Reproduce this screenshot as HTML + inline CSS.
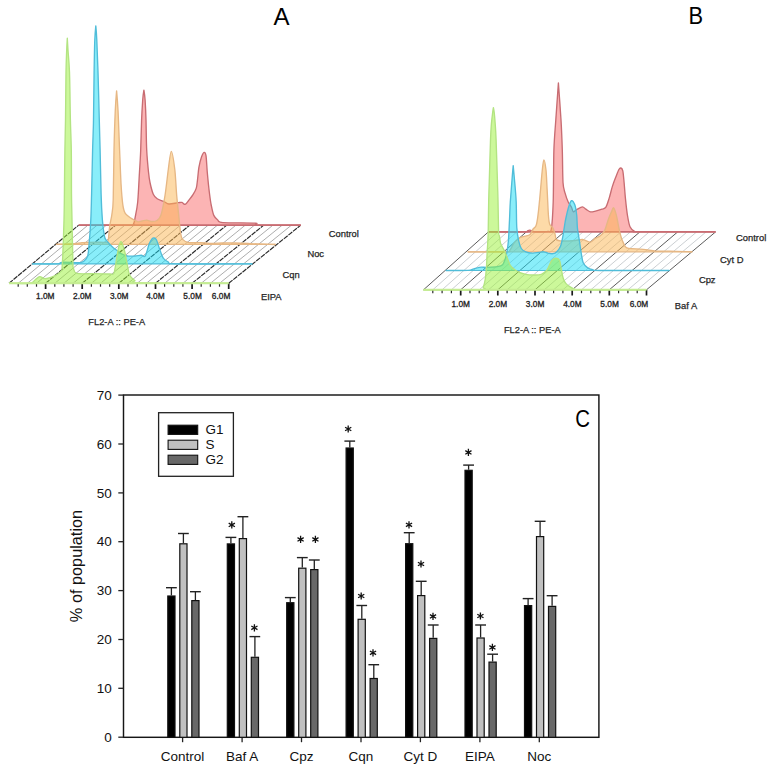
<!DOCTYPE html>
<html><head><meta charset="utf-8"><style>
html,body{margin:0;padding:0;background:#fff;}
svg{display:block;}
text{font-family:"Liberation Sans",sans-serif;}
.tk{font-size:8.3px;fill:#222;stroke:#222;stroke-width:0.3px;}
.lb{font-size:9.4px;fill:#262626;stroke:#262626;stroke-width:0.25px;}
.ax{font-size:9.3px;fill:#262626;stroke:#262626;stroke-width:0.25px;}
.pl{font-size:24px;fill:#000;}
.ct{font-size:13.5px;fill:#111;}
.yt{font-size:16.3px;fill:#111;}
</style></head><body>
<svg width="775" height="769" viewBox="0 0 775 769">
<rect x="0" y="0" width="775" height="769" fill="#fff"/>
<line x1="18.2" y1="283.3" x2="88" y2="225.1" stroke="#a4a4a4" stroke-width="0.9"/>
<line x1="27.3" y1="283.3" x2="97.2" y2="225.1" stroke="#a4a4a4" stroke-width="0.9"/>
<line x1="36.5" y1="283.3" x2="106.5" y2="225.1" stroke="#a4a4a4" stroke-width="0.9"/>
<line x1="54.8" y1="283.3" x2="125" y2="225.1" stroke="#a4a4a4" stroke-width="0.9"/>
<line x1="63.9" y1="283.3" x2="134.2" y2="225.1" stroke="#a4a4a4" stroke-width="0.9"/>
<line x1="73.1" y1="283.3" x2="143.5" y2="225.1" stroke="#a4a4a4" stroke-width="0.9"/>
<line x1="91.4" y1="283.3" x2="162" y2="225.1" stroke="#a4a4a4" stroke-width="0.9"/>
<line x1="100.5" y1="283.3" x2="171.2" y2="225.1" stroke="#a4a4a4" stroke-width="0.9"/>
<line x1="109.7" y1="283.3" x2="180.5" y2="225.1" stroke="#a4a4a4" stroke-width="0.9"/>
<line x1="128" y1="283.3" x2="199" y2="225.1" stroke="#a4a4a4" stroke-width="0.9"/>
<line x1="137.2" y1="283.3" x2="208.3" y2="225.1" stroke="#a4a4a4" stroke-width="0.9"/>
<line x1="146.3" y1="283.3" x2="217.5" y2="225.1" stroke="#a4a4a4" stroke-width="0.9"/>
<line x1="164.6" y1="283.3" x2="236" y2="225.1" stroke="#a4a4a4" stroke-width="0.9"/>
<line x1="173.8" y1="283.3" x2="245.3" y2="225.1" stroke="#a4a4a4" stroke-width="0.9"/>
<line x1="182.9" y1="283.3" x2="254.5" y2="225.1" stroke="#a4a4a4" stroke-width="0.9"/>
<line x1="201.2" y1="283.3" x2="273" y2="225.1" stroke="#a4a4a4" stroke-width="0.9"/>
<line x1="210.4" y1="283.3" x2="282.3" y2="225.1" stroke="#a4a4a4" stroke-width="0.9"/>
<line x1="219.5" y1="283.3" x2="291.5" y2="225.1" stroke="#a4a4a4" stroke-width="0.9"/>
<line x1="9" y1="283.3" x2="78.7" y2="225.1" stroke="#2a2a2a" stroke-width="1.15" stroke-dasharray="5 0.9"/>
<line x1="45.6" y1="283.3" x2="115.7" y2="225.1" stroke="#2a2a2a" stroke-width="1.15" stroke-dasharray="5 0.9"/>
<line x1="82.2" y1="283.3" x2="152.7" y2="225.1" stroke="#2a2a2a" stroke-width="1.15" stroke-dasharray="5 0.9"/>
<line x1="118.8" y1="283.3" x2="189.8" y2="225.1" stroke="#2a2a2a" stroke-width="1.15" stroke-dasharray="5 0.9"/>
<line x1="155.5" y1="283.3" x2="226.8" y2="225.1" stroke="#2a2a2a" stroke-width="1.15" stroke-dasharray="5 0.9"/>
<line x1="192.1" y1="283.3" x2="263.8" y2="225.1" stroke="#2a2a2a" stroke-width="1.15" stroke-dasharray="5 0.9"/>
<line x1="228.7" y1="283.3" x2="300.8" y2="225.1" stroke="#2a2a2a" stroke-width="1.15" stroke-dasharray="5 0.9"/>
<path d="M78.7,225.1 C86.4,225.1 121.8,225.3 130,225.1 C138.2,224.9 132.7,225.1 133.5,224 C134.3,222.9 134.5,220.9 135.1,217.6 C135.7,214.3 137.1,208.4 137.7,202 C138.3,195.6 138.9,182.8 139.3,175 C139.8,167.2 140.4,158.2 140.7,150 C141,141.8 141.3,127.5 141.6,120 C141.9,112.5 142.4,104.5 142.7,100 C143,95.5 143.9,90.2 143.9,90.2 C143.9,90.2 144.8,95.5 145.1,100 C145.4,104.5 145.8,112.5 146,120 C146.2,127.5 146.3,142.2 146.7,150 C147.1,157.8 148,167.1 148.5,172 C149,176.9 149.3,179.2 150,182.5 C150.7,185.8 152.2,191.8 153.3,194.2 C154.4,196.6 155.6,197.7 157.2,198.8 C158.8,199.9 161.9,200.6 163.7,201.4 C165.5,202.2 166.8,203.8 168.9,204 C171,204.2 176,202.9 178,202.7 C180,202.5 180.9,202.1 182,202.4 C183.1,202.7 184.1,204.8 185.2,204.4 C186.3,204 187.9,201.3 189.1,199.8 C190.3,198.3 191.9,196.4 193,194.6 C194.1,192.8 195.6,190.4 196.3,188.1 C197,185.8 197.2,182.1 197.6,179 C198,175.9 198.3,170.6 198.9,167.3 C199.5,164 200.7,159.1 201.5,156.9 C202.3,154.7 203.4,152.6 204.1,152.4 C204.8,152.2 205.5,152.6 206,155.6 C206.5,158.6 206.8,167 207.3,172.5 C207.8,178 208.7,187.1 209.3,192 C209.9,196.9 210.5,201.5 211.2,205 C211.9,208.5 212.8,213.2 213.8,215.4 C214.8,217.7 216.3,218.9 217.7,220 C219.1,221.1 217.2,222.1 222.9,222.6 C228.6,223.1 250.1,222.8 255.4,223.2 C260.7,223.6 251.2,224.8 258,225.1 C264.8,225.4 294.4,225.1 300.8,225.1 Z" fill="rgba(250,105,105,0.5)" stroke="none"/>
<path d="M78.7,225.1 C86.4,225.1 121.8,225.3 130,225.1 C138.2,224.9 132.7,225.1 133.5,224 C134.3,222.9 134.5,220.9 135.1,217.6 C135.7,214.3 137.1,208.4 137.7,202 C138.3,195.6 138.9,182.8 139.3,175 C139.8,167.2 140.4,158.2 140.7,150 C141,141.8 141.3,127.5 141.6,120 C141.9,112.5 142.4,104.5 142.7,100 C143,95.5 143.9,90.2 143.9,90.2 C143.9,90.2 144.8,95.5 145.1,100 C145.4,104.5 145.8,112.5 146,120 C146.2,127.5 146.3,142.2 146.7,150 C147.1,157.8 148,167.1 148.5,172 C149,176.9 149.3,179.2 150,182.5 C150.7,185.8 152.2,191.8 153.3,194.2 C154.4,196.6 155.6,197.7 157.2,198.8 C158.8,199.9 161.9,200.6 163.7,201.4 C165.5,202.2 166.8,203.8 168.9,204 C171,204.2 176,202.9 178,202.7 C180,202.5 180.9,202.1 182,202.4 C183.1,202.7 184.1,204.8 185.2,204.4 C186.3,204 187.9,201.3 189.1,199.8 C190.3,198.3 191.9,196.4 193,194.6 C194.1,192.8 195.6,190.4 196.3,188.1 C197,185.8 197.2,182.1 197.6,179 C198,175.9 198.3,170.6 198.9,167.3 C199.5,164 200.7,159.1 201.5,156.9 C202.3,154.7 203.4,152.6 204.1,152.4 C204.8,152.2 205.5,152.6 206,155.6 C206.5,158.6 206.8,167 207.3,172.5 C207.8,178 208.7,187.1 209.3,192 C209.9,196.9 210.5,201.5 211.2,205 C211.9,208.5 212.8,213.2 213.8,215.4 C214.8,217.7 216.3,218.9 217.7,220 C219.1,221.1 217.2,222.1 222.9,222.6 C228.6,223.1 250.1,222.8 255.4,223.2 C260.7,223.6 251.2,224.8 258,225.1 C264.8,225.4 294.4,225.1 300.8,225.1" fill="none" stroke="#c86c72" stroke-width="1.35" stroke-linejoin="round"/>
<line x1="78.7" y1="225.1" x2="300.8" y2="225.1" stroke="#c86c72" stroke-width="1.6"/>
<path d="M55.9,244.4 C58,244.3 66.4,244.2 70,244 C73.6,243.8 77.6,243.3 80,243 C82.4,242.7 83,242.4 86,242.3 C89,242.2 97.1,242.2 100,242.2 C102.9,242.2 104.4,242.4 105.5,242.4 C106.6,242.4 107,242.6 107.5,242 C108,241.4 108.2,240.9 108.5,238.4 C108.8,235.9 109.3,228.9 109.8,225.4 C110.3,221.9 111.3,218.8 111.8,215 C112.3,211.2 112.9,209.8 113.2,200 C113.5,190.2 113.7,163.5 114,150 C114.3,136.5 114.9,118.9 115.3,110 C115.7,101.1 116.6,90.9 116.6,90.9 C116.6,90.9 117.5,101.1 118,110 C118.5,118.9 119.1,138.8 119.6,150 C120.1,161.2 120.6,176.8 121.1,185 C121.6,193.2 122.2,200.3 122.8,204.6 C123.4,208.9 124.1,211.6 125.4,213.7 C126.7,215.8 129.8,217.3 131.2,218.3 C132.6,219.3 133.5,219.7 134.5,220.2 C135.5,220.7 136.9,221.7 138,221.8 C139.1,221.9 140.7,221.2 142,221 C143.3,220.8 145.3,220.1 146.8,220.2 C148.3,220.3 150.5,221.5 152,221.5 C153.5,221.5 155.7,221.5 157,220.5 C158.3,219.5 159.8,218.8 161,215 C162.2,211.2 163.9,202.3 165,195.5 C166.1,188.7 167.4,176.1 168.3,169.5 C169.2,162.9 170.3,151.3 171.3,151.3 C172.3,151.3 174,162.9 174.8,169.5 C175.6,176.1 176.1,188.7 176.7,195.5 C177.3,202.3 178.1,209.3 178.7,215 C179.3,220.7 180,229.5 180.6,233.2 C181.2,236.9 181.3,238 182.6,239.4 C183.9,240.8 186.3,242.1 189,242.6 C191.7,243.1 197.5,242.5 200.6,242.6 C203.7,242.7 206.4,243.3 209.7,243.4 C213,243.5 218.8,243.1 222.6,243 C226.4,242.9 230.9,242.9 235,243 C239.1,243.1 245.5,243.4 250,243.6 C254.5,243.8 261.2,244.1 265,244.2 C268.8,244.3 274,244.5 275.6,244.5 Z" fill="rgba(251,181,81,0.5)" stroke="none"/>
<path d="M55.9,244.4 C58,244.3 66.4,244.2 70,244 C73.6,243.8 77.6,243.3 80,243 C82.4,242.7 83,242.4 86,242.3 C89,242.2 97.1,242.2 100,242.2 C102.9,242.2 104.4,242.4 105.5,242.4 C106.6,242.4 107,242.6 107.5,242 C108,241.4 108.2,240.9 108.5,238.4 C108.8,235.9 109.3,228.9 109.8,225.4 C110.3,221.9 111.3,218.8 111.8,215 C112.3,211.2 112.9,209.8 113.2,200 C113.5,190.2 113.7,163.5 114,150 C114.3,136.5 114.9,118.9 115.3,110 C115.7,101.1 116.6,90.9 116.6,90.9 C116.6,90.9 117.5,101.1 118,110 C118.5,118.9 119.1,138.8 119.6,150 C120.1,161.2 120.6,176.8 121.1,185 C121.6,193.2 122.2,200.3 122.8,204.6 C123.4,208.9 124.1,211.6 125.4,213.7 C126.7,215.8 129.8,217.3 131.2,218.3 C132.6,219.3 133.5,219.7 134.5,220.2 C135.5,220.7 136.9,221.7 138,221.8 C139.1,221.9 140.7,221.2 142,221 C143.3,220.8 145.3,220.1 146.8,220.2 C148.3,220.3 150.5,221.5 152,221.5 C153.5,221.5 155.7,221.5 157,220.5 C158.3,219.5 159.8,218.8 161,215 C162.2,211.2 163.9,202.3 165,195.5 C166.1,188.7 167.4,176.1 168.3,169.5 C169.2,162.9 170.3,151.3 171.3,151.3 C172.3,151.3 174,162.9 174.8,169.5 C175.6,176.1 176.1,188.7 176.7,195.5 C177.3,202.3 178.1,209.3 178.7,215 C179.3,220.7 180,229.5 180.6,233.2 C181.2,236.9 181.3,238 182.6,239.4 C183.9,240.8 186.3,242.1 189,242.6 C191.7,243.1 197.5,242.5 200.6,242.6 C203.7,242.7 206.4,243.3 209.7,243.4 C213,243.5 218.8,243.1 222.6,243 C226.4,242.9 230.9,242.9 235,243 C239.1,243.1 245.5,243.4 250,243.6 C254.5,243.8 261.2,244.1 265,244.2 C268.8,244.3 274,244.5 275.6,244.5" fill="none" stroke="#e6b784" stroke-width="1.35" stroke-linejoin="round"/>
<line x1="55.9" y1="244.4" x2="275.6" y2="244.4" stroke="#e6b784" stroke-width="1.2"/>
<path d="M32.2,263.9 C35.9,263.9 52.5,264.1 57,263.9 C61.5,263.7 58.5,262.5 62,262.3 C65.5,262.1 76.7,262.8 80,262.6 C83.3,262.4 82.8,262 84,261 C85.2,260 87,258.4 87.7,256 C88.5,253.6 88.5,250.4 89,245 C89.5,239.6 90.4,227.7 90.8,220 C91.2,212.3 91.3,204.5 91.6,194 C91.9,183.5 92.3,161.1 92.6,150 C92.9,138.9 93.3,131.7 93.5,120 C93.7,108.3 93.9,84 94.1,72 C94.3,60 94.5,46.9 94.8,40 C95.1,33.1 95.8,25.9 95.8,25.9 C95.8,25.9 96.5,33.1 96.8,40 C97.1,46.9 97.6,60 98,72 C98.4,84 99,108.3 99.3,120 C99.6,131.7 99.8,138.9 100.1,150 C100.4,161.1 100.8,183.5 101.1,194 C101.4,204.5 101.9,213.6 102.4,220 C102.9,226.4 103.9,233.4 104.5,236.5 C105.1,239.6 105.8,239.4 106.5,240.5 C107.2,241.6 108.5,242.9 109.5,244 C110.5,245.1 111.9,246.5 113,247.5 C114.1,248.5 115.9,249.6 117,250.5 C118.1,251.4 119.1,252.5 120.6,253.3 C122.1,254.1 125,255.6 127.1,256 C129.2,256.4 132.7,256.1 134.8,256 C136.9,255.9 139.7,255.3 141.3,255.3 C142.9,255.3 144,257.6 145.2,256 C146.4,254.4 148,247.1 149,244.5 C150,241.9 151.2,240 152,239 C152.8,238 153.5,237.8 154.2,238 C154.9,238.2 155.7,238.4 156.5,240 C157.3,241.6 158.4,245.7 159.4,248.4 C160.4,251.1 161.8,256 163.2,258 C164.5,260 166.5,261.1 168.4,262 C170.3,262.9 163.5,263.6 176.1,263.9 C188.7,264.2 241,263.9 252.4,263.9 Z" fill="rgba(20,222,246,0.5)" stroke="none"/>
<path d="M32.2,263.9 C35.9,263.9 52.5,264.1 57,263.9 C61.5,263.7 58.5,262.5 62,262.3 C65.5,262.1 76.7,262.8 80,262.6 C83.3,262.4 82.8,262 84,261 C85.2,260 87,258.4 87.7,256 C88.5,253.6 88.5,250.4 89,245 C89.5,239.6 90.4,227.7 90.8,220 C91.2,212.3 91.3,204.5 91.6,194 C91.9,183.5 92.3,161.1 92.6,150 C92.9,138.9 93.3,131.7 93.5,120 C93.7,108.3 93.9,84 94.1,72 C94.3,60 94.5,46.9 94.8,40 C95.1,33.1 95.8,25.9 95.8,25.9 C95.8,25.9 96.5,33.1 96.8,40 C97.1,46.9 97.6,60 98,72 C98.4,84 99,108.3 99.3,120 C99.6,131.7 99.8,138.9 100.1,150 C100.4,161.1 100.8,183.5 101.1,194 C101.4,204.5 101.9,213.6 102.4,220 C102.9,226.4 103.9,233.4 104.5,236.5 C105.1,239.6 105.8,239.4 106.5,240.5 C107.2,241.6 108.5,242.9 109.5,244 C110.5,245.1 111.9,246.5 113,247.5 C114.1,248.5 115.9,249.6 117,250.5 C118.1,251.4 119.1,252.5 120.6,253.3 C122.1,254.1 125,255.6 127.1,256 C129.2,256.4 132.7,256.1 134.8,256 C136.9,255.9 139.7,255.3 141.3,255.3 C142.9,255.3 144,257.6 145.2,256 C146.4,254.4 148,247.1 149,244.5 C150,241.9 151.2,240 152,239 C152.8,238 153.5,237.8 154.2,238 C154.9,238.2 155.7,238.4 156.5,240 C157.3,241.6 158.4,245.7 159.4,248.4 C160.4,251.1 161.8,256 163.2,258 C164.5,260 166.5,261.1 168.4,262 C170.3,262.9 163.5,263.6 176.1,263.9 C188.7,264.2 241,263.9 252.4,263.9" fill="none" stroke="#50bdd9" stroke-width="1.35" stroke-linejoin="round"/>
<line x1="32.2" y1="263.9" x2="252.4" y2="263.9" stroke="#50bdd9" stroke-width="1.2"/>
<path d="M9,283.3 C12.2,283.3 26.1,283.8 30,283.3 C33.9,282.8 33.5,281 35,280 C36.5,279 38.2,276.8 39.7,276.6 C41.2,276.4 43.1,278.6 44.9,278.7 C46.7,278.8 49.7,277.9 51.6,277.2 C53.5,276.5 56.4,274.9 57.8,274 C59.2,273.1 60.3,272.2 61,271 C61.7,269.8 61.8,273.6 62.2,266 C62.7,258.4 63.7,230.8 64,220 C64.3,209.2 64.3,204.5 64.4,194 C64.5,183.5 64.7,161.1 64.9,150 C65.1,138.9 65.3,131.7 65.5,120 C65.7,108.3 65.8,82.5 66,72 C66.2,61.5 66.5,55.1 66.7,50 C66.9,44.9 67.3,38.2 67.3,38.2 C67.3,38.2 67.7,44.9 68,50 C68.3,55.1 69.1,61.5 69.5,72 C69.9,82.5 70.1,108.3 70.4,120 C70.7,131.7 71.1,138.9 71.3,150 C71.5,161.1 71.4,183.5 71.5,194 C71.6,204.5 71.8,209.8 72,220 C72.2,230.2 72.7,254.9 72.9,262 C73.1,269.1 72.7,265.9 73.3,267.6 C73.9,269.3 73.5,272.5 76.8,273.4 C80.1,274.3 90,273.5 95,273.6 C100,273.7 107.2,274.1 110,274 C112.8,273.9 113,275.5 114,273 C115,270.5 116,261.4 116.8,257.3 C117.5,253.2 118.3,248.3 119,246 C119.7,243.7 120.5,241.1 121.3,241.8 C122.1,242.5 123.6,247.5 124.5,250.8 C125.4,254.1 126.3,260 127.1,263.7 C127.9,267.4 128.5,272.8 129.7,275.3 C130.9,277.8 133.3,279.4 134.8,280.5 C136.3,281.6 125.9,282.4 140,282.8 C154.1,283.2 215.4,283.2 228.7,283.3 Z" fill="rgba(153,241,53,0.5)" stroke="none"/>
<path d="M9,283.3 C12.2,283.3 26.1,283.8 30,283.3 C33.9,282.8 33.5,281 35,280 C36.5,279 38.2,276.8 39.7,276.6 C41.2,276.4 43.1,278.6 44.9,278.7 C46.7,278.8 49.7,277.9 51.6,277.2 C53.5,276.5 56.4,274.9 57.8,274 C59.2,273.1 60.3,272.2 61,271 C61.7,269.8 61.8,273.6 62.2,266 C62.7,258.4 63.7,230.8 64,220 C64.3,209.2 64.3,204.5 64.4,194 C64.5,183.5 64.7,161.1 64.9,150 C65.1,138.9 65.3,131.7 65.5,120 C65.7,108.3 65.8,82.5 66,72 C66.2,61.5 66.5,55.1 66.7,50 C66.9,44.9 67.3,38.2 67.3,38.2 C67.3,38.2 67.7,44.9 68,50 C68.3,55.1 69.1,61.5 69.5,72 C69.9,82.5 70.1,108.3 70.4,120 C70.7,131.7 71.1,138.9 71.3,150 C71.5,161.1 71.4,183.5 71.5,194 C71.6,204.5 71.8,209.8 72,220 C72.2,230.2 72.7,254.9 72.9,262 C73.1,269.1 72.7,265.9 73.3,267.6 C73.9,269.3 73.5,272.5 76.8,273.4 C80.1,274.3 90,273.5 95,273.6 C100,273.7 107.2,274.1 110,274 C112.8,273.9 113,275.5 114,273 C115,270.5 116,261.4 116.8,257.3 C117.5,253.2 118.3,248.3 119,246 C119.7,243.7 120.5,241.1 121.3,241.8 C122.1,242.5 123.6,247.5 124.5,250.8 C125.4,254.1 126.3,260 127.1,263.7 C127.9,267.4 128.5,272.8 129.7,275.3 C130.9,277.8 133.3,279.4 134.8,280.5 C136.3,281.6 125.9,282.4 140,282.8 C154.1,283.2 215.4,283.2 228.7,283.3" fill="none" stroke="#b3e482" stroke-width="1.35" stroke-linejoin="round"/>
<line x1="9" y1="283.3" x2="228.7" y2="283.3" stroke="#b3e482" stroke-width="1.2"/>
<line x1="18.2" y1="283.3" x2="18.2" y2="286.7" stroke="#2a2a2a" stroke-width="1.2"/>
<line x1="27.3" y1="283.3" x2="27.3" y2="286.7" stroke="#2a2a2a" stroke-width="1.2"/>
<line x1="36.5" y1="283.3" x2="36.5" y2="286.7" stroke="#2a2a2a" stroke-width="1.2"/>
<line x1="45.6" y1="283.3" x2="45.6" y2="289" stroke="#1a1a1a" stroke-width="1.7"/>
<line x1="54.8" y1="283.3" x2="54.8" y2="286.7" stroke="#2a2a2a" stroke-width="1.2"/>
<line x1="63.9" y1="283.3" x2="63.9" y2="286.7" stroke="#2a2a2a" stroke-width="1.2"/>
<line x1="73.1" y1="283.3" x2="73.1" y2="286.7" stroke="#2a2a2a" stroke-width="1.2"/>
<line x1="82.2" y1="283.3" x2="82.2" y2="289" stroke="#1a1a1a" stroke-width="1.7"/>
<line x1="91.4" y1="283.3" x2="91.4" y2="286.7" stroke="#2a2a2a" stroke-width="1.2"/>
<line x1="100.5" y1="283.3" x2="100.5" y2="286.7" stroke="#2a2a2a" stroke-width="1.2"/>
<line x1="109.7" y1="283.3" x2="109.7" y2="286.7" stroke="#2a2a2a" stroke-width="1.2"/>
<line x1="118.8" y1="283.3" x2="118.8" y2="289" stroke="#1a1a1a" stroke-width="1.7"/>
<line x1="128" y1="283.3" x2="128" y2="286.7" stroke="#2a2a2a" stroke-width="1.2"/>
<line x1="137.2" y1="283.3" x2="137.2" y2="286.7" stroke="#2a2a2a" stroke-width="1.2"/>
<line x1="146.3" y1="283.3" x2="146.3" y2="286.7" stroke="#2a2a2a" stroke-width="1.2"/>
<line x1="155.5" y1="283.3" x2="155.5" y2="289" stroke="#1a1a1a" stroke-width="1.7"/>
<line x1="164.6" y1="283.3" x2="164.6" y2="286.7" stroke="#2a2a2a" stroke-width="1.2"/>
<line x1="173.8" y1="283.3" x2="173.8" y2="286.7" stroke="#2a2a2a" stroke-width="1.2"/>
<line x1="182.9" y1="283.3" x2="182.9" y2="286.7" stroke="#2a2a2a" stroke-width="1.2"/>
<line x1="192.1" y1="283.3" x2="192.1" y2="289" stroke="#1a1a1a" stroke-width="1.7"/>
<line x1="201.2" y1="283.3" x2="201.2" y2="286.7" stroke="#2a2a2a" stroke-width="1.2"/>
<line x1="210.4" y1="283.3" x2="210.4" y2="286.7" stroke="#2a2a2a" stroke-width="1.2"/>
<line x1="219.5" y1="283.3" x2="219.5" y2="286.7" stroke="#2a2a2a" stroke-width="1.2"/>
<line x1="228.7" y1="283.3" x2="228.7" y2="289" stroke="#1a1a1a" stroke-width="1.7"/>
<text x="45.3" y="299.4" text-anchor="middle" class="tk">1.0M</text>
<text x="82.3" y="299.4" text-anchor="middle" class="tk">2.0M</text>
<text x="119.2" y="299.4" text-anchor="middle" class="tk">3.0M</text>
<text x="155.4" y="299.4" text-anchor="middle" class="tk">4.0M</text>
<text x="192.6" y="299.4" text-anchor="middle" class="tk">5.0M</text>
<text x="230.3" y="299.4" text-anchor="end" class="tk">6.0M</text>
<line x1="9.0" y1="283.3" x2="228.7" y2="283.3" stroke="#c4ec92" stroke-width="2"/>
<text x="328.7" y="236.7" class="lb">Control</text>
<text x="307.4" y="257.2" class="lb">Noc</text>
<text x="282.6" y="278" class="lb">Cqn</text>
<text x="260.9" y="300.2" class="lb">EIPA</text>
<text x="88.3" y="324.9" class="ax">FL2-A :: PE-A</text>
<text x="273.5" y="24.8" class="pl">A</text>
<line x1="432.8" y1="289.8" x2="497.9" y2="231.9" stroke="#c2c6ca" stroke-width="0.85"/>
<line x1="442.1" y1="289.8" x2="507.3" y2="231.9" stroke="#c2c6ca" stroke-width="0.85"/>
<line x1="451.4" y1="289.8" x2="516.8" y2="231.9" stroke="#c2c6ca" stroke-width="0.85"/>
<line x1="470" y1="289.8" x2="535.7" y2="231.9" stroke="#c2c6ca" stroke-width="0.85"/>
<line x1="479.2" y1="289.8" x2="545.2" y2="231.9" stroke="#c2c6ca" stroke-width="0.85"/>
<line x1="488.5" y1="289.8" x2="554.7" y2="231.9" stroke="#c2c6ca" stroke-width="0.85"/>
<line x1="507.1" y1="289.8" x2="573.6" y2="231.9" stroke="#c2c6ca" stroke-width="0.85"/>
<line x1="516.4" y1="289.8" x2="583.1" y2="231.9" stroke="#c2c6ca" stroke-width="0.85"/>
<line x1="525.7" y1="289.8" x2="592.5" y2="231.9" stroke="#c2c6ca" stroke-width="0.85"/>
<line x1="544.3" y1="289.8" x2="611.5" y2="231.9" stroke="#c2c6ca" stroke-width="0.85"/>
<line x1="553.6" y1="289.8" x2="620.9" y2="231.9" stroke="#c2c6ca" stroke-width="0.85"/>
<line x1="562.9" y1="289.8" x2="630.4" y2="231.9" stroke="#c2c6ca" stroke-width="0.85"/>
<line x1="581.5" y1="289.8" x2="649.3" y2="231.9" stroke="#c2c6ca" stroke-width="0.85"/>
<line x1="590.8" y1="289.8" x2="658.8" y2="231.9" stroke="#c2c6ca" stroke-width="0.85"/>
<line x1="600" y1="289.8" x2="668.3" y2="231.9" stroke="#c2c6ca" stroke-width="0.85"/>
<line x1="618.6" y1="289.8" x2="687.2" y2="231.9" stroke="#c2c6ca" stroke-width="0.85"/>
<line x1="627.9" y1="289.8" x2="696.7" y2="231.9" stroke="#c2c6ca" stroke-width="0.85"/>
<line x1="637.2" y1="289.8" x2="706.1" y2="231.9" stroke="#c2c6ca" stroke-width="0.85"/>
<line x1="423.5" y1="289.8" x2="488.4" y2="231.9" stroke="#484848" stroke-width="0.9"/>
<line x1="460.7" y1="289.8" x2="526.3" y2="231.9" stroke="#484848" stroke-width="0.9"/>
<line x1="497.8" y1="289.8" x2="564.1" y2="231.9" stroke="#484848" stroke-width="0.9"/>
<line x1="535" y1="289.8" x2="602" y2="231.9" stroke="#484848" stroke-width="0.9"/>
<line x1="572.2" y1="289.8" x2="639.9" y2="231.9" stroke="#484848" stroke-width="0.9"/>
<line x1="609.3" y1="289.8" x2="677.7" y2="231.9" stroke="#484848" stroke-width="0.9"/>
<line x1="646.5" y1="289.8" x2="715.6" y2="231.9" stroke="#484848" stroke-width="0.9"/>
<path d="M488.4,231.9 C493.9,231.9 519.1,232.1 525,231.9 C530.9,231.7 526.8,231.1 527.5,230.8 C528.2,230.5 529.2,230.1 530,230.2 C530.8,230.3 531.6,231 532.5,231.2 C533.4,231.4 533.7,231.7 536,231.7 C538.3,231.7 545.7,231.8 548,231.4 C550.3,231 550.5,233.4 551.3,229 C552.1,224.6 552.8,213.8 553.2,202 C553.6,190.2 553.5,162.3 553.9,150 C554.3,137.7 555.1,130.1 555.8,120 C556.5,110 558.4,83 558.4,83 C558.4,83 560.4,110 561,120 C561.6,130.1 562,140.6 562.3,150 C562.6,159.4 562.6,176.1 563,182.5 C563.4,188.9 564.2,190 565,192.9 C565.8,195.8 567.2,199.9 568.2,202 C569.2,204.1 570.7,205.7 571.5,207.2 C572.3,208.7 572.5,211.5 573.4,211.8 C574.3,212.1 575.9,209.9 577.3,209.2 C578.7,208.4 581.2,206.8 582.5,206.8 C583.8,206.8 584.6,208.4 585.8,209.2 C587,209.9 588.8,211.5 590.3,211.8 C591.8,212.1 593.7,211.5 595.5,211.1 C597.3,210.7 600.4,209.8 602,209.2 C603.6,208.6 604.8,208.9 605.9,207.2 C607,205.5 608.2,201.2 609.2,198.1 C610.2,195 611.4,189.5 612.4,186.4 C613.4,183.3 614.7,179.8 615.7,177.3 C616.7,174.8 618.1,170.9 618.9,169.5 C619.7,168.1 620.3,167.8 620.9,168 C621.5,168.2 622.3,168.6 622.8,170.8 C623.3,173 623.7,178.4 624.1,182.5 C624.5,186.6 624.9,193.2 625.4,198.1 C625.9,203 626.7,210.7 627.4,215 C628.1,219.3 628.9,224.3 630,226.7 C631.1,229.1 633,230.5 634.5,231.3 C636,232.1 627.8,231.8 640,231.9 C652.2,232 704.3,231.9 715.6,231.9 Z" fill="rgba(250,105,105,0.5)" stroke="none"/>
<path d="M488.4,231.9 C493.9,231.9 519.1,232.1 525,231.9 C530.9,231.7 526.8,231.1 527.5,230.8 C528.2,230.5 529.2,230.1 530,230.2 C530.8,230.3 531.6,231 532.5,231.2 C533.4,231.4 533.7,231.7 536,231.7 C538.3,231.7 545.7,231.8 548,231.4 C550.3,231 550.5,233.4 551.3,229 C552.1,224.6 552.8,213.8 553.2,202 C553.6,190.2 553.5,162.3 553.9,150 C554.3,137.7 555.1,130.1 555.8,120 C556.5,110 558.4,83 558.4,83 C558.4,83 560.4,110 561,120 C561.6,130.1 562,140.6 562.3,150 C562.6,159.4 562.6,176.1 563,182.5 C563.4,188.9 564.2,190 565,192.9 C565.8,195.8 567.2,199.9 568.2,202 C569.2,204.1 570.7,205.7 571.5,207.2 C572.3,208.7 572.5,211.5 573.4,211.8 C574.3,212.1 575.9,209.9 577.3,209.2 C578.7,208.4 581.2,206.8 582.5,206.8 C583.8,206.8 584.6,208.4 585.8,209.2 C587,209.9 588.8,211.5 590.3,211.8 C591.8,212.1 593.7,211.5 595.5,211.1 C597.3,210.7 600.4,209.8 602,209.2 C603.6,208.6 604.8,208.9 605.9,207.2 C607,205.5 608.2,201.2 609.2,198.1 C610.2,195 611.4,189.5 612.4,186.4 C613.4,183.3 614.7,179.8 615.7,177.3 C616.7,174.8 618.1,170.9 618.9,169.5 C619.7,168.1 620.3,167.8 620.9,168 C621.5,168.2 622.3,168.6 622.8,170.8 C623.3,173 623.7,178.4 624.1,182.5 C624.5,186.6 624.9,193.2 625.4,198.1 C625.9,203 626.7,210.7 627.4,215 C628.1,219.3 628.9,224.3 630,226.7 C631.1,229.1 633,230.5 634.5,231.3 C636,232.1 627.8,231.8 640,231.9 C652.2,232 704.3,231.9 715.6,231.9" fill="none" stroke="#c86c72" stroke-width="1.35" stroke-linejoin="round"/>
<line x1="488.4" y1="231.9" x2="715.6" y2="231.9" stroke="#c86c72" stroke-width="1.6"/>
<path d="M467.7,251.8 C473.4,251.8 499.7,252.1 506,251.8 C512.3,251.5 508.8,251.3 510,250 C511.2,248.7 512.6,244.8 514,243 C515.4,241.2 517.4,239 519,238 C520.6,237 523.4,236.7 525,236.2 C526.6,235.7 528.8,235.4 530,234.4 C531.2,233.4 531.9,230.7 532.8,229.4 C533.7,228.1 535.3,227.6 536.1,225.5 C536.9,223.4 537.3,220.6 538,215.1 C538.7,209.6 540,195.8 540.6,189 C541.2,182.2 541.8,174.4 542.3,170 C542.8,165.6 543.3,159.8 543.9,159.8 C544.5,159.8 545.5,165.6 546,170 C546.5,174.4 546.7,182.2 547.1,189 C547.5,195.8 548,209.7 548.4,215 C548.8,220.3 549,222.2 549.7,224.2 C550.4,226.2 552.2,226.6 553,228.1 C553.8,229.6 554.5,232.3 555,234 C555.5,235.7 555.5,238.5 556.3,239.5 C557,240.5 558.7,240.6 560,240.8 C561.3,241 562.8,241 565,241 C567.2,241 572.4,240.7 575,240.5 C577.6,240.3 580.3,239.3 582.6,239.5 C584.9,239.7 588.4,242.3 590.3,242.1 C592.2,241.9 594,239.1 595.5,238.2 C597,237.3 598.6,237.1 600,236 C601.4,234.9 603.3,233.2 604.6,230.6 C605.9,228 607.4,221.8 608.5,218.9 C609.6,216 611,212.8 611.8,211.1 C612.6,209.4 613,207.3 613.7,207.9 C614.4,208.5 615.5,212 616.3,215 C617.1,218 618.3,225 618.9,228 C619.5,231 620,233.1 620.5,235 C621,236.9 621.8,239.3 622.5,241 C623.2,242.7 624.3,245.4 625.2,246.5 C626.1,247.6 626.1,248 628.8,248.4 C631.5,248.8 639.1,248.9 643.2,249.3 C647.3,249.7 651.8,250.8 655.9,251.1 C660,251.4 664.8,251 670.3,251.1 C675.8,251.2 689,251.7 692.3,251.8 Z" fill="rgba(251,181,81,0.5)" stroke="none"/>
<path d="M467.7,251.8 C473.4,251.8 499.7,252.1 506,251.8 C512.3,251.5 508.8,251.3 510,250 C511.2,248.7 512.6,244.8 514,243 C515.4,241.2 517.4,239 519,238 C520.6,237 523.4,236.7 525,236.2 C526.6,235.7 528.8,235.4 530,234.4 C531.2,233.4 531.9,230.7 532.8,229.4 C533.7,228.1 535.3,227.6 536.1,225.5 C536.9,223.4 537.3,220.6 538,215.1 C538.7,209.6 540,195.8 540.6,189 C541.2,182.2 541.8,174.4 542.3,170 C542.8,165.6 543.3,159.8 543.9,159.8 C544.5,159.8 545.5,165.6 546,170 C546.5,174.4 546.7,182.2 547.1,189 C547.5,195.8 548,209.7 548.4,215 C548.8,220.3 549,222.2 549.7,224.2 C550.4,226.2 552.2,226.6 553,228.1 C553.8,229.6 554.5,232.3 555,234 C555.5,235.7 555.5,238.5 556.3,239.5 C557,240.5 558.7,240.6 560,240.8 C561.3,241 562.8,241 565,241 C567.2,241 572.4,240.7 575,240.5 C577.6,240.3 580.3,239.3 582.6,239.5 C584.9,239.7 588.4,242.3 590.3,242.1 C592.2,241.9 594,239.1 595.5,238.2 C597,237.3 598.6,237.1 600,236 C601.4,234.9 603.3,233.2 604.6,230.6 C605.9,228 607.4,221.8 608.5,218.9 C609.6,216 611,212.8 611.8,211.1 C612.6,209.4 613,207.3 613.7,207.9 C614.4,208.5 615.5,212 616.3,215 C617.1,218 618.3,225 618.9,228 C619.5,231 620,233.1 620.5,235 C621,236.9 621.8,239.3 622.5,241 C623.2,242.7 624.3,245.4 625.2,246.5 C626.1,247.6 626.1,248 628.8,248.4 C631.5,248.8 639.1,248.9 643.2,249.3 C647.3,249.7 651.8,250.8 655.9,251.1 C660,251.4 664.8,251 670.3,251.1 C675.8,251.2 689,251.7 692.3,251.8" fill="none" stroke="#e6b784" stroke-width="1.35" stroke-linejoin="round"/>
<line x1="467.7" y1="251.8" x2="692.3" y2="251.8" stroke="#e6b784" stroke-width="1.2"/>
<path d="M445.8,270.5 C449.1,270.5 463.9,270.5 468,270.3 C472.1,270.1 471.2,269.6 472.9,269.2 C474.6,268.8 477.3,267.6 479.4,267.3 C481.5,267 484.4,267.4 487.1,267.3 C489.8,267.2 495.1,267 497.4,266.6 C499.7,266.2 501.4,265.9 502.6,264.7 C503.8,263.5 504.5,260.9 505.2,258.9 C505.9,256.9 506.6,253.8 507.1,251.1 C507.6,248.4 508,245.5 508.4,240.8 C508.8,236.1 509.2,225.8 509.5,220 C509.8,214.2 509.9,208 510.3,202 C510.7,196 511.6,185.5 512,180 C512.4,174.5 513.2,165.6 513.2,165.6 C513.2,165.6 514,174.5 514.5,180 C515,185.5 515.9,194.8 516.2,202 C516.5,209.2 516.4,222.1 516.8,227.9 C517.2,233.7 518,237.7 518.7,240.8 C519.4,243.9 520.2,246.8 521.3,248.5 C522.4,250.2 524.1,251.1 525.8,251.8 C527.4,252.5 530.4,253 532.3,253.1 C534.2,253.2 537,252.6 538.7,252.4 C540.4,252.2 542.5,251.7 543.9,251.8 C545.2,251.9 546.4,252.8 547.7,253.1 C549.1,253.4 551.5,253.9 552.9,253.7 C554.3,253.5 555.6,253 556.8,251.8 C558,250.6 559.6,248.6 560.6,246 C561.6,243.4 562.5,238.1 563.2,234.4 C563.9,230.7 564.5,225.4 565.2,221.5 C566,217.6 567.3,211.6 568.2,208.5 C569.1,205.4 570.5,201.3 571.5,200.7 C572.5,200.1 573.9,202.5 574.7,204.6 C575.5,206.7 576.3,211.5 576.7,215 C577.1,218.5 577,224 577.4,227.9 C577.8,231.8 578.8,236.9 579.4,240.8 C580,244.7 580.7,250.4 581.3,253.7 C581.9,257 582.2,260.6 583.2,262.7 C584.2,264.8 586.2,266.8 587.7,267.9 C589.2,269 591.1,269.4 592.9,269.8 C594.7,270.2 588.5,270.4 600,270.5 C611.5,270.6 659.1,270.5 669.5,270.5 Z" fill="rgba(20,222,246,0.5)" stroke="none"/>
<path d="M445.8,270.5 C449.1,270.5 463.9,270.5 468,270.3 C472.1,270.1 471.2,269.6 472.9,269.2 C474.6,268.8 477.3,267.6 479.4,267.3 C481.5,267 484.4,267.4 487.1,267.3 C489.8,267.2 495.1,267 497.4,266.6 C499.7,266.2 501.4,265.9 502.6,264.7 C503.8,263.5 504.5,260.9 505.2,258.9 C505.9,256.9 506.6,253.8 507.1,251.1 C507.6,248.4 508,245.5 508.4,240.8 C508.8,236.1 509.2,225.8 509.5,220 C509.8,214.2 509.9,208 510.3,202 C510.7,196 511.6,185.5 512,180 C512.4,174.5 513.2,165.6 513.2,165.6 C513.2,165.6 514,174.5 514.5,180 C515,185.5 515.9,194.8 516.2,202 C516.5,209.2 516.4,222.1 516.8,227.9 C517.2,233.7 518,237.7 518.7,240.8 C519.4,243.9 520.2,246.8 521.3,248.5 C522.4,250.2 524.1,251.1 525.8,251.8 C527.4,252.5 530.4,253 532.3,253.1 C534.2,253.2 537,252.6 538.7,252.4 C540.4,252.2 542.5,251.7 543.9,251.8 C545.2,251.9 546.4,252.8 547.7,253.1 C549.1,253.4 551.5,253.9 552.9,253.7 C554.3,253.5 555.6,253 556.8,251.8 C558,250.6 559.6,248.6 560.6,246 C561.6,243.4 562.5,238.1 563.2,234.4 C563.9,230.7 564.5,225.4 565.2,221.5 C566,217.6 567.3,211.6 568.2,208.5 C569.1,205.4 570.5,201.3 571.5,200.7 C572.5,200.1 573.9,202.5 574.7,204.6 C575.5,206.7 576.3,211.5 576.7,215 C577.1,218.5 577,224 577.4,227.9 C577.8,231.8 578.8,236.9 579.4,240.8 C580,244.7 580.7,250.4 581.3,253.7 C581.9,257 582.2,260.6 583.2,262.7 C584.2,264.8 586.2,266.8 587.7,267.9 C589.2,269 591.1,269.4 592.9,269.8 C594.7,270.2 588.5,270.4 600,270.5 C611.5,270.6 659.1,270.5 669.5,270.5" fill="none" stroke="#50bdd9" stroke-width="1.35" stroke-linejoin="round"/>
<line x1="445.8" y1="270.5" x2="669.5" y2="270.5" stroke="#50bdd9" stroke-width="1.2"/>
<path d="M423.5,289.8 C432.1,289.8 472,290.2 481,289.8 C490,289.4 482.6,288.8 483.2,287.3 C483.8,285.8 484.7,282.6 485.2,279.5 C485.7,276.4 486.2,270.5 486.5,266.6 C486.8,262.7 486.8,258.9 487.1,253.7 C487.4,248.5 488,240 488.2,231.9 C488.4,223.8 488.5,207.8 488.7,200 C488.9,192.2 489,189 489.3,180 C489.6,171 490.2,148.2 490.5,140 C490.8,131.8 491,129.1 491.3,125 C491.6,121 492.3,115.6 492.6,113 C492.9,110.4 493.4,107.7 493.4,107.7 C493.4,107.7 494,110.4 494.3,113 C494.6,115.6 495,121 495.3,125 C495.6,129.1 495.8,131.8 496.1,140 C496.4,148.2 497.1,171 497.4,180 C497.7,189 497.8,192.2 498,200 C498.2,207.8 498.4,226.5 498.6,231.9 C498.8,237.3 499.1,234.3 499.4,236 C499.7,237.7 500,241.5 500.6,243.4 C501.2,245.3 502.5,247.2 503.2,248.5 C503.9,249.8 504.5,250.8 505.2,252.4 C505.9,254 506.9,257 507.7,258.9 C508.5,260.8 509.3,263.8 510.3,265.3 C511.3,266.8 512.8,268.1 514.2,269.2 C515.6,270.3 517.7,271.6 519.4,272.4 C521.1,273.2 523.7,274 525.8,274.4 C527.9,274.8 531.2,275 533.5,275 C535.8,275 539.3,275.1 541.3,274.4 C543.2,273.7 545.3,271.8 546.5,270.5 C547.7,269.2 548.2,267.5 549,266 C549.8,264.5 550.6,262 551.6,260.8 C552.6,259.6 554.3,258.3 555.5,258.2 C556.7,258.1 558.5,258.6 559.4,260.2 C560.3,261.8 560.7,266.5 561.3,269.2 C561.9,271.9 562.5,276.1 563.2,278.2 C563.9,280.3 564.8,282.1 565.8,283.4 C566.8,284.7 568.3,285.7 569.7,286.6 C571.1,287.5 573.5,289 575,289.5 C576.5,290 569.3,289.8 580,289.8 C590.7,289.8 636.5,289.8 646.5,289.8 Z" fill="rgba(153,241,53,0.5)" stroke="none"/>
<path d="M423.5,289.8 C432.1,289.8 472,290.2 481,289.8 C490,289.4 482.6,288.8 483.2,287.3 C483.8,285.8 484.7,282.6 485.2,279.5 C485.7,276.4 486.2,270.5 486.5,266.6 C486.8,262.7 486.8,258.9 487.1,253.7 C487.4,248.5 488,240 488.2,231.9 C488.4,223.8 488.5,207.8 488.7,200 C488.9,192.2 489,189 489.3,180 C489.6,171 490.2,148.2 490.5,140 C490.8,131.8 491,129.1 491.3,125 C491.6,121 492.3,115.6 492.6,113 C492.9,110.4 493.4,107.7 493.4,107.7 C493.4,107.7 494,110.4 494.3,113 C494.6,115.6 495,121 495.3,125 C495.6,129.1 495.8,131.8 496.1,140 C496.4,148.2 497.1,171 497.4,180 C497.7,189 497.8,192.2 498,200 C498.2,207.8 498.4,226.5 498.6,231.9 C498.8,237.3 499.1,234.3 499.4,236 C499.7,237.7 500,241.5 500.6,243.4 C501.2,245.3 502.5,247.2 503.2,248.5 C503.9,249.8 504.5,250.8 505.2,252.4 C505.9,254 506.9,257 507.7,258.9 C508.5,260.8 509.3,263.8 510.3,265.3 C511.3,266.8 512.8,268.1 514.2,269.2 C515.6,270.3 517.7,271.6 519.4,272.4 C521.1,273.2 523.7,274 525.8,274.4 C527.9,274.8 531.2,275 533.5,275 C535.8,275 539.3,275.1 541.3,274.4 C543.2,273.7 545.3,271.8 546.5,270.5 C547.7,269.2 548.2,267.5 549,266 C549.8,264.5 550.6,262 551.6,260.8 C552.6,259.6 554.3,258.3 555.5,258.2 C556.7,258.1 558.5,258.6 559.4,260.2 C560.3,261.8 560.7,266.5 561.3,269.2 C561.9,271.9 562.5,276.1 563.2,278.2 C563.9,280.3 564.8,282.1 565.8,283.4 C566.8,284.7 568.3,285.7 569.7,286.6 C571.1,287.5 573.5,289 575,289.5 C576.5,290 569.3,289.8 580,289.8 C590.7,289.8 636.5,289.8 646.5,289.8" fill="none" stroke="#b3e482" stroke-width="1.35" stroke-linejoin="round"/>
<line x1="423.5" y1="289.8" x2="646.5" y2="289.8" stroke="#b3e482" stroke-width="1.2"/>
<line x1="432.8" y1="289.8" x2="432.8" y2="293.2" stroke="#2a2a2a" stroke-width="1.2"/>
<line x1="442.1" y1="289.8" x2="442.1" y2="293.2" stroke="#2a2a2a" stroke-width="1.2"/>
<line x1="451.4" y1="289.8" x2="451.4" y2="293.2" stroke="#2a2a2a" stroke-width="1.2"/>
<line x1="460.7" y1="289.8" x2="460.7" y2="295.5" stroke="#1a1a1a" stroke-width="1.7"/>
<line x1="470" y1="289.8" x2="470" y2="293.2" stroke="#2a2a2a" stroke-width="1.2"/>
<line x1="479.2" y1="289.8" x2="479.2" y2="293.2" stroke="#2a2a2a" stroke-width="1.2"/>
<line x1="488.5" y1="289.8" x2="488.5" y2="293.2" stroke="#2a2a2a" stroke-width="1.2"/>
<line x1="497.8" y1="289.8" x2="497.8" y2="295.5" stroke="#1a1a1a" stroke-width="1.7"/>
<line x1="507.1" y1="289.8" x2="507.1" y2="293.2" stroke="#2a2a2a" stroke-width="1.2"/>
<line x1="516.4" y1="289.8" x2="516.4" y2="293.2" stroke="#2a2a2a" stroke-width="1.2"/>
<line x1="525.7" y1="289.8" x2="525.7" y2="293.2" stroke="#2a2a2a" stroke-width="1.2"/>
<line x1="535" y1="289.8" x2="535" y2="295.5" stroke="#1a1a1a" stroke-width="1.7"/>
<line x1="544.3" y1="289.8" x2="544.3" y2="293.2" stroke="#2a2a2a" stroke-width="1.2"/>
<line x1="553.6" y1="289.8" x2="553.6" y2="293.2" stroke="#2a2a2a" stroke-width="1.2"/>
<line x1="562.9" y1="289.8" x2="562.9" y2="293.2" stroke="#2a2a2a" stroke-width="1.2"/>
<line x1="572.2" y1="289.8" x2="572.2" y2="295.5" stroke="#1a1a1a" stroke-width="1.7"/>
<line x1="581.5" y1="289.8" x2="581.5" y2="293.2" stroke="#2a2a2a" stroke-width="1.2"/>
<line x1="590.8" y1="289.8" x2="590.8" y2="293.2" stroke="#2a2a2a" stroke-width="1.2"/>
<line x1="600" y1="289.8" x2="600" y2="293.2" stroke="#2a2a2a" stroke-width="1.2"/>
<line x1="609.3" y1="289.8" x2="609.3" y2="295.5" stroke="#1a1a1a" stroke-width="1.7"/>
<line x1="618.6" y1="289.8" x2="618.6" y2="293.2" stroke="#2a2a2a" stroke-width="1.2"/>
<line x1="627.9" y1="289.8" x2="627.9" y2="293.2" stroke="#2a2a2a" stroke-width="1.2"/>
<line x1="637.2" y1="289.8" x2="637.2" y2="293.2" stroke="#2a2a2a" stroke-width="1.2"/>
<line x1="646.5" y1="289.8" x2="646.5" y2="295.5" stroke="#1a1a1a" stroke-width="1.7"/>
<text x="460.7" y="306.7" text-anchor="middle" class="tk">1.0M</text>
<text x="497.9" y="306.7" text-anchor="middle" class="tk">2.0M</text>
<text x="535.1" y="306.7" text-anchor="middle" class="tk">3.0M</text>
<text x="572.4" y="306.7" text-anchor="middle" class="tk">4.0M</text>
<text x="609.6" y="306.7" text-anchor="middle" class="tk">5.0M</text>
<text x="648.2" y="306.7" text-anchor="end" class="tk">6.0M</text>
<line x1="423.5" y1="289.8" x2="646.5" y2="289.8" stroke="#c4ec92" stroke-width="2"/>
<text x="736" y="240.5" class="lb">Control</text>
<text x="720.1" y="262.7" class="lb">Cyt D</text>
<text x="698.9" y="283.1" class="lb">Cpz</text>
<text x="674.8" y="308.7" class="lb">Baf A</text>
<text x="503.9" y="332.5" class="ax">FL2-A :: PE-A</text>
<text transform="translate(688.6,23.5) scale(0.91,1)" class="pl">B</text>
<rect x="123.5" y="395.0" width="475.4" height="342.3" fill="none" stroke="#161616" stroke-width="1.45"/>
<line x1="118.3" y1="737.2" x2="123.5" y2="737.2" stroke="#222" stroke-width="1.3"/>
<text x="111.8" y="741.9" text-anchor="end" class="ct">0</text>
<line x1="118.3" y1="688.3" x2="123.5" y2="688.3" stroke="#222" stroke-width="1.3"/>
<text x="111.8" y="693" text-anchor="end" class="ct">10</text>
<line x1="118.3" y1="639.5" x2="123.5" y2="639.5" stroke="#222" stroke-width="1.3"/>
<text x="111.8" y="644.2" text-anchor="end" class="ct">20</text>
<line x1="118.3" y1="590.6" x2="123.5" y2="590.6" stroke="#222" stroke-width="1.3"/>
<text x="111.8" y="595.3" text-anchor="end" class="ct">30</text>
<line x1="118.3" y1="541.7" x2="123.5" y2="541.7" stroke="#222" stroke-width="1.3"/>
<text x="111.8" y="546.4" text-anchor="end" class="ct">40</text>
<line x1="118.3" y1="492.9" x2="123.5" y2="492.9" stroke="#222" stroke-width="1.3"/>
<text x="111.8" y="497.6" text-anchor="end" class="ct">50</text>
<line x1="118.3" y1="444" x2="123.5" y2="444" stroke="#222" stroke-width="1.3"/>
<text x="111.8" y="448.7" text-anchor="end" class="ct">60</text>
<line x1="118.3" y1="395.1" x2="123.5" y2="395.1" stroke="#222" stroke-width="1.3"/>
<text x="111.8" y="399.8" text-anchor="end" class="ct">70</text>
<line x1="182.6" y1="737.3" x2="182.6" y2="742.2" stroke="#222" stroke-width="1.3"/>
<text x="182.6" y="761.4" text-anchor="middle" class="ct">Control</text>
<line x1="171.4" y1="595.4" x2="171.4" y2="587.7" stroke="#222" stroke-width="1.3"/>
<line x1="166" y1="587.7" x2="176.8" y2="587.7" stroke="#222" stroke-width="1.4"/>
<rect x="167.8" y="596" width="7.2" height="141.3" fill="#000" stroke="#111" stroke-width="1.2"/>
<line x1="183.4" y1="543.2" x2="183.4" y2="533.5" stroke="#222" stroke-width="1.3"/>
<line x1="178" y1="533.5" x2="188.8" y2="533.5" stroke="#222" stroke-width="1.4"/>
<rect x="179.8" y="543.8" width="7.2" height="193.5" fill="#c0c0c0" stroke="#111" stroke-width="1.2"/>
<line x1="195.4" y1="600" x2="195.4" y2="591.7" stroke="#222" stroke-width="1.3"/>
<line x1="190" y1="591.7" x2="200.8" y2="591.7" stroke="#222" stroke-width="1.4"/>
<rect x="191.8" y="600.6" width="7.2" height="136.7" fill="#686868" stroke="#111" stroke-width="1.2"/>
<line x1="242.1" y1="737.3" x2="242.1" y2="742.2" stroke="#222" stroke-width="1.3"/>
<text x="242.1" y="761.4" text-anchor="middle" class="ct">Baf A</text>
<line x1="230.9" y1="543.3" x2="230.9" y2="537.4" stroke="#222" stroke-width="1.3"/>
<line x1="225.5" y1="537.4" x2="236.3" y2="537.4" stroke="#222" stroke-width="1.4"/>
<rect x="227.3" y="543.9" width="7.2" height="193.4" fill="#000" stroke="#111" stroke-width="1.2"/>
<line x1="242.9" y1="538" x2="242.9" y2="516.7" stroke="#222" stroke-width="1.3"/>
<line x1="237.5" y1="516.7" x2="248.3" y2="516.7" stroke="#222" stroke-width="1.4"/>
<rect x="239.3" y="538.6" width="7.2" height="198.7" fill="#c0c0c0" stroke="#111" stroke-width="1.2"/>
<line x1="254.9" y1="656.7" x2="254.9" y2="636.6" stroke="#222" stroke-width="1.3"/>
<line x1="249.5" y1="636.6" x2="260.2" y2="636.6" stroke="#222" stroke-width="1.4"/>
<rect x="251.3" y="657.3" width="7.2" height="80" fill="#686868" stroke="#111" stroke-width="1.2"/>
<line x1="301.5" y1="737.3" x2="301.5" y2="742.2" stroke="#222" stroke-width="1.3"/>
<text x="301.5" y="761.4" text-anchor="middle" class="ct">Cpz</text>
<line x1="290.3" y1="602.1" x2="290.3" y2="597.6" stroke="#222" stroke-width="1.3"/>
<line x1="284.9" y1="597.6" x2="295.7" y2="597.6" stroke="#222" stroke-width="1.4"/>
<rect x="286.7" y="602.7" width="7.2" height="134.6" fill="#000" stroke="#111" stroke-width="1.2"/>
<line x1="302.3" y1="567.6" x2="302.3" y2="557.6" stroke="#222" stroke-width="1.3"/>
<line x1="296.9" y1="557.6" x2="307.7" y2="557.6" stroke="#222" stroke-width="1.4"/>
<rect x="298.7" y="568.2" width="7.2" height="169.1" fill="#c0c0c0" stroke="#111" stroke-width="1.2"/>
<line x1="314.3" y1="569" x2="314.3" y2="560" stroke="#222" stroke-width="1.3"/>
<line x1="308.9" y1="560" x2="319.7" y2="560" stroke="#222" stroke-width="1.4"/>
<rect x="310.7" y="569.6" width="7.2" height="167.7" fill="#686868" stroke="#111" stroke-width="1.2"/>
<line x1="361" y1="737.3" x2="361" y2="742.2" stroke="#222" stroke-width="1.3"/>
<text x="361" y="761.4" text-anchor="middle" class="ct">Cqn</text>
<line x1="349.8" y1="447.4" x2="349.8" y2="441.1" stroke="#222" stroke-width="1.3"/>
<line x1="344.4" y1="441.1" x2="355.1" y2="441.1" stroke="#222" stroke-width="1.4"/>
<rect x="346.1" y="448" width="7.2" height="289.3" fill="#000" stroke="#111" stroke-width="1.2"/>
<line x1="361.8" y1="618.7" x2="361.8" y2="605.5" stroke="#222" stroke-width="1.3"/>
<line x1="356.4" y1="605.5" x2="367.1" y2="605.5" stroke="#222" stroke-width="1.4"/>
<rect x="358.1" y="619.3" width="7.2" height="118" fill="#c0c0c0" stroke="#111" stroke-width="1.2"/>
<line x1="373.8" y1="677.9" x2="373.8" y2="664.7" stroke="#222" stroke-width="1.3"/>
<line x1="368.4" y1="664.7" x2="379.1" y2="664.7" stroke="#222" stroke-width="1.4"/>
<rect x="370.1" y="678.5" width="7.2" height="58.8" fill="#686868" stroke="#111" stroke-width="1.2"/>
<line x1="420.4" y1="737.3" x2="420.4" y2="742.2" stroke="#222" stroke-width="1.3"/>
<text x="420.4" y="761.4" text-anchor="middle" class="ct">Cyt D</text>
<line x1="409.2" y1="543.1" x2="409.2" y2="532.7" stroke="#222" stroke-width="1.3"/>
<line x1="403.8" y1="532.7" x2="414.6" y2="532.7" stroke="#222" stroke-width="1.4"/>
<rect x="405.6" y="543.7" width="7.2" height="193.6" fill="#000" stroke="#111" stroke-width="1.2"/>
<line x1="421.2" y1="595" x2="421.2" y2="581.3" stroke="#222" stroke-width="1.3"/>
<line x1="415.8" y1="581.3" x2="426.6" y2="581.3" stroke="#222" stroke-width="1.4"/>
<rect x="417.6" y="595.6" width="7.2" height="141.7" fill="#c0c0c0" stroke="#111" stroke-width="1.2"/>
<line x1="433.2" y1="637.8" x2="433.2" y2="625" stroke="#222" stroke-width="1.3"/>
<line x1="427.8" y1="625" x2="438.6" y2="625" stroke="#222" stroke-width="1.4"/>
<rect x="429.6" y="638.4" width="7.2" height="98.9" fill="#686868" stroke="#111" stroke-width="1.2"/>
<line x1="479.9" y1="737.3" x2="479.9" y2="742.2" stroke="#222" stroke-width="1.3"/>
<text x="479.9" y="761.4" text-anchor="middle" class="ct">EIPA</text>
<line x1="468.6" y1="469.7" x2="468.6" y2="465.1" stroke="#222" stroke-width="1.3"/>
<line x1="463.2" y1="465.1" x2="474" y2="465.1" stroke="#222" stroke-width="1.4"/>
<rect x="465" y="470.3" width="7.2" height="267" fill="#000" stroke="#111" stroke-width="1.2"/>
<line x1="480.6" y1="637.4" x2="480.6" y2="625" stroke="#222" stroke-width="1.3"/>
<line x1="475.2" y1="625" x2="486" y2="625" stroke="#222" stroke-width="1.4"/>
<rect x="477" y="638" width="7.2" height="99.3" fill="#c0c0c0" stroke="#111" stroke-width="1.2"/>
<line x1="492.6" y1="661.5" x2="492.6" y2="654.2" stroke="#222" stroke-width="1.3"/>
<line x1="487.2" y1="654.2" x2="498" y2="654.2" stroke="#222" stroke-width="1.4"/>
<rect x="489" y="662.1" width="7.2" height="75.2" fill="#686868" stroke="#111" stroke-width="1.2"/>
<line x1="539.3" y1="737.3" x2="539.3" y2="742.2" stroke="#222" stroke-width="1.3"/>
<text x="539.3" y="761.4" text-anchor="middle" class="ct">Noc</text>
<line x1="528.1" y1="605" x2="528.1" y2="598.6" stroke="#222" stroke-width="1.3"/>
<line x1="522.7" y1="598.6" x2="533.5" y2="598.6" stroke="#222" stroke-width="1.4"/>
<rect x="524.5" y="605.6" width="7.2" height="131.7" fill="#000" stroke="#111" stroke-width="1.2"/>
<line x1="540.1" y1="536" x2="540.1" y2="521.3" stroke="#222" stroke-width="1.3"/>
<line x1="534.7" y1="521.3" x2="545.5" y2="521.3" stroke="#222" stroke-width="1.4"/>
<rect x="536.5" y="536.6" width="7.2" height="200.7" fill="#c0c0c0" stroke="#111" stroke-width="1.2"/>
<line x1="552.1" y1="605.8" x2="552.1" y2="595.7" stroke="#222" stroke-width="1.3"/>
<line x1="546.7" y1="595.7" x2="557.5" y2="595.7" stroke="#222" stroke-width="1.4"/>
<rect x="548.5" y="606.4" width="7.2" height="130.9" fill="#686868" stroke="#111" stroke-width="1.2"/>
<path d="M231.8,521.3L231.8,528.5M228.7,523.1L234.9,526.7M228.7,526.7L234.9,523.1" stroke="#111" stroke-width="1.3" stroke-linecap="butt"/>
<path d="M254.4,624.2L254.4,631.4M251.3,626L257.5,629.6M251.3,629.6L257.5,626" stroke="#111" stroke-width="1.3" stroke-linecap="butt"/>
<path d="M300.6,535.8L300.6,543M297.5,537.6L303.7,541.2M297.5,541.2L303.7,537.6" stroke="#111" stroke-width="1.3" stroke-linecap="butt"/>
<path d="M315.4,535.8L315.4,543M312.3,537.6L318.5,541.2M312.3,541.2L318.5,537.6" stroke="#111" stroke-width="1.3" stroke-linecap="butt"/>
<path d="M348.2,425.4L348.2,432.6M345.1,427.2L351.3,430.8M345.1,430.8L351.3,427.2" stroke="#111" stroke-width="1.3" stroke-linecap="butt"/>
<path d="M361.2,592.4L361.2,599.6M358.1,594.2L364.3,597.8M358.1,597.8L364.3,594.2" stroke="#111" stroke-width="1.3" stroke-linecap="butt"/>
<path d="M373,649.2L373,656.4M369.9,651L376.1,654.6M369.9,654.6L376.1,651" stroke="#111" stroke-width="1.3" stroke-linecap="butt"/>
<path d="M409,521.2L409,528.4M405.9,523L412.1,526.6M405.9,526.6L412.1,523" stroke="#111" stroke-width="1.3" stroke-linecap="butt"/>
<path d="M421,560.4L421,567.6M417.9,562.2L424.1,565.8M417.9,565.8L424.1,562.2" stroke="#111" stroke-width="1.3" stroke-linecap="butt"/>
<path d="M433,612.8L433,620M429.9,614.6L436.1,618.2M429.9,618.2L436.1,614.6" stroke="#111" stroke-width="1.3" stroke-linecap="butt"/>
<path d="M468.4,448.8L468.4,456M465.3,450.6L471.5,454.2M465.3,454.2L471.5,450.6" stroke="#111" stroke-width="1.3" stroke-linecap="butt"/>
<path d="M480.4,612.4L480.4,619.6M477.3,614.2L483.5,617.8M477.3,617.8L483.5,614.2" stroke="#111" stroke-width="1.3" stroke-linecap="butt"/>
<path d="M492.4,643.8L492.4,651M489.3,645.6L495.5,649.2M489.3,649.2L495.5,645.6" stroke="#111" stroke-width="1.3" stroke-linecap="butt"/>
<rect x="158.6" y="412.7" width="74.8" height="63.6" fill="#fff" stroke="#222" stroke-width="1.3"/>
<rect x="168.1" y="425.2" width="29.6" height="9.2" fill="#000" stroke="#111" stroke-width="1.1"/>
<text x="205.4" y="434.4" class="ct">G1</text>
<rect x="168.1" y="440.2" width="29.6" height="9.2" fill="#c0c0c0" stroke="#111" stroke-width="1.1"/>
<text x="205.4" y="449.4" class="ct">S</text>
<rect x="168.1" y="455.2" width="29.6" height="9.2" fill="#686868" stroke="#111" stroke-width="1.1"/>
<text x="205.4" y="464.4" class="ct">G2</text>
<text transform="translate(575.2,427.2) scale(0.85,1)" class="pl">C</text>
<text transform="translate(81.6,566) rotate(-90)" text-anchor="middle" class="yt">% of population</text>
</svg>
</body></html>
